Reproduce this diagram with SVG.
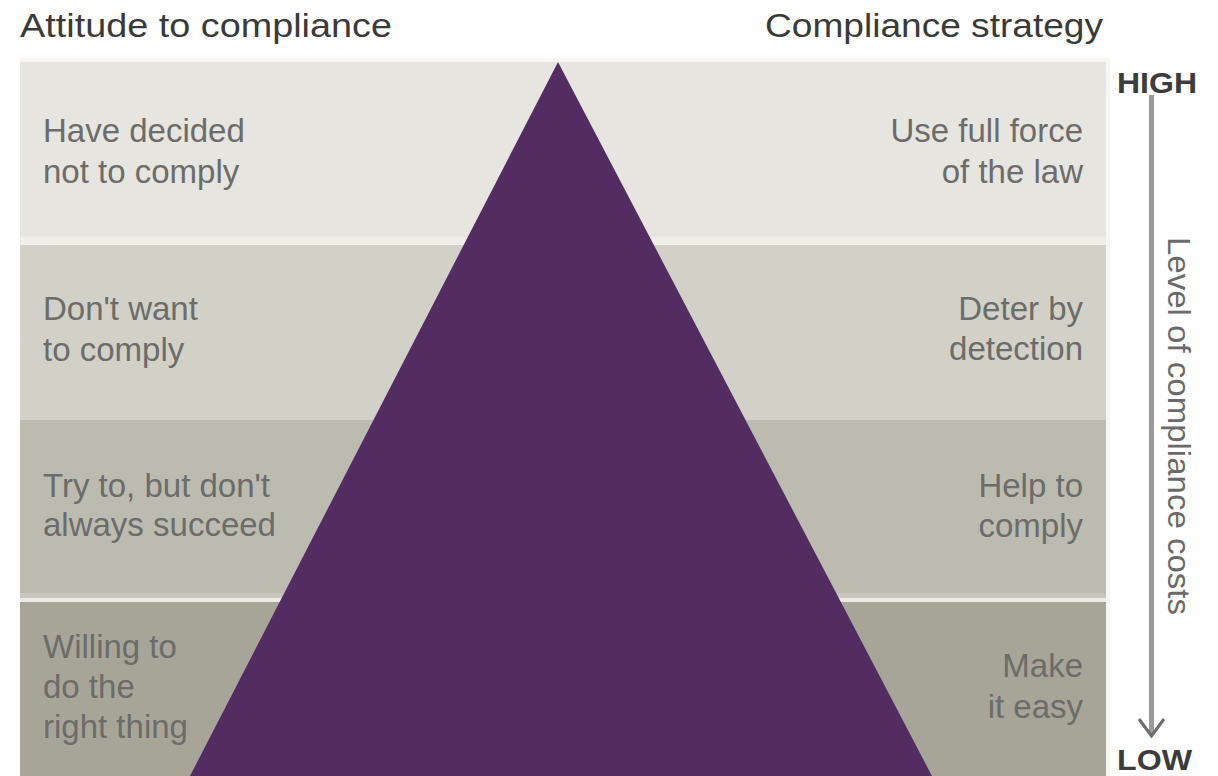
<svg xmlns="http://www.w3.org/2000/svg" width="1218" height="776" viewBox="0 0 1218 776">
  <style>
    .title { font-family: "Liberation Sans", Arial, sans-serif; font-size: 34px; fill: #3a3a3a; }
    .body { font-family: "Liberation Sans", Arial, sans-serif; font-size: 33px; fill: #6c6c6a; }
    .right { text-anchor: end; }
    .scale { font-family: "Liberation Sans", Arial, sans-serif; font-size: 30px; font-weight: bold; fill: #3c3c3c; }
    .axis { font-family: "Liberation Sans", Arial, sans-serif; font-size: 32px; fill: #6a6a6a; }
  </style>
  <rect x="0" y="0" width="1218" height="776" fill="#ffffff"/>

  <g id="titles">
    <text class="title" x="20" y="37" textLength="372" lengthAdjust="spacingAndGlyphs">Attitude to compliance</text>
    <text class="title" x="765" y="37" textLength="338" lengthAdjust="spacingAndGlyphs">Compliance strategy</text>
  </g>

  <g id="bands">
    <rect x="20" y="58" width="1086" height="4" fill="#f7f6f3"/>
    <rect x="20" y="62" width="1086" height="175" fill="#e6e5e0"/>
    <rect x="20" y="237" width="1086" height="8" fill="#efeee9"/>
    <rect x="20" y="245" width="1086" height="175" fill="#d2d1c8"/>
    <rect x="20" y="420" width="1086" height="173" fill="#bcbbb0"/>
    <rect x="20" y="593" width="1086" height="5" fill="#c8c7bd"/>
    <rect x="20" y="598" width="1086" height="4" fill="#ecebe6"/>
    <rect x="20" y="602" width="1086" height="174" fill="#a6a598"/>
    <rect x="1106" y="58" width="4" height="718" fill="#f6f6f3"/>
  </g>

  <g id="pyramid">
    <polygon points="558,62 190,776 932,776" fill="#532d61"/>
  </g>

  <g id="band1">
    <text class="body" x="43" y="142">Have decided</text>
    <text class="body" x="43" y="183">not to comply</text>
    <text class="body right" x="1083" y="142">Use full force</text>
    <text class="body right" x="1083" y="183">of the law</text>
  </g>
  <g id="band2">
    <text class="body" x="43" y="320">Don't want</text>
    <text class="body" x="43" y="361">to comply</text>
    <text class="body right" x="1083" y="320">Deter by</text>
    <text class="body right" x="1083" y="360">detection</text>
  </g>
  <g id="band3">
    <text class="body" x="43" y="497">Try to, but don't</text>
    <text class="body" x="43" y="536">always succeed</text>
    <text class="body right" x="1083" y="497">Help to</text>
    <text class="body right" x="1083" y="537">comply</text>
  </g>
  <g id="band4">
    <text class="body" x="43" y="658">Willing to</text>
    <text class="body" x="43" y="698">do the</text>
    <text class="body" x="43" y="738">right thing</text>
    <text class="body right" x="1083" y="677">Make</text>
    <text class="body right" x="1083" y="718">it easy</text>
  </g>

  <g id="connectors">
    <line x1="1151.5" y1="95" x2="1151.5" y2="734" stroke="#9b9999" stroke-width="5"/>
    <polyline points="1139,719 1151.5,736 1164,719" fill="none" stroke="#6e6c6c" stroke-width="3"/>
  </g>

  <g id="scale">
    <text class="scale" x="1117" y="93" textLength="80" lengthAdjust="spacingAndGlyphs">HIGH</text>
    <text class="scale" x="1117" y="770" textLength="75" lengthAdjust="spacingAndGlyphs">LOW</text>
    <text class="axis" transform="translate(1168,237) rotate(90)" textLength="378" lengthAdjust="spacingAndGlyphs">Level of compliance costs</text>
  </g>
</svg>
